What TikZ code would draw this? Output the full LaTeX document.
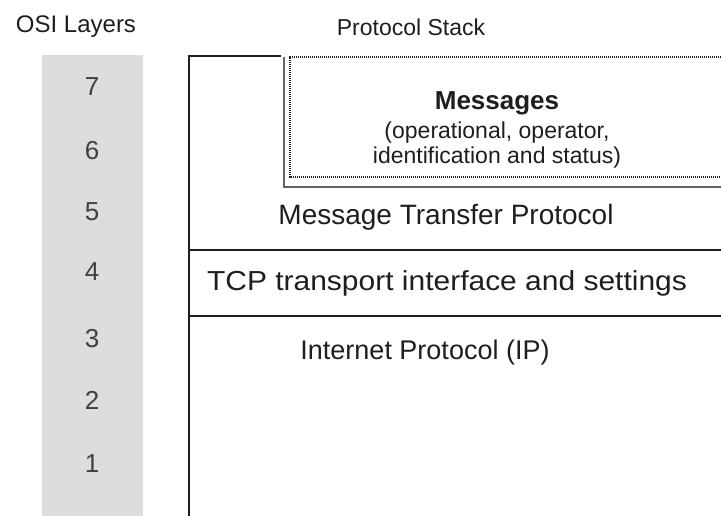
\documentclass[tikz,border=0pt]{standalone}
\usepackage{fontspec}
\setmainfont{Liberation Sans}
\definecolor{osigray}{RGB}{221,221,221}
\definecolor{ink}{RGB}{30,30,30}
\definecolor{shade}{RGB}{100,100,100}
\tikzset{
  txt/.style={inner sep=0pt, text=ink, font=\fontsize{28}{30}\selectfont},
  hdr/.style={inner sep=0pt, text=ink, font=\fontsize{24}{26}\selectfont},
  num/.style={inner sep=0pt, text=ink!85, font=\fontsize{26}{28}\selectfont},
  frame/.style={draw=ink, line width=1.3pt},
  dots/.style={draw=ink, line width=2.2pt, dash pattern=on 1.2pt off 0.8pt},
  shadowline/.style={draw=shade, line width=1.8pt}
}
\begin{document}
\begin{tikzpicture}[x=1pt,y=-1pt]
\useasboundingbox (0,0) rectangle (721,516);
% OSI column
\fill[osigray] (42,55) rectangle (143,516);
\node[hdr] (hosi) at (76,27) {OSI Layers};
\node[hdr, font=\fontsize{23}{26}\selectfont] (hps) at (411,27) {Protocol Stack};
\node[num] (n7) at (92,87) {7};
\node[num] (n6) at (92,151) {6};
\node[num] (n5) at (92,212) {5};
\node[num] (n4) at (92,272) {4};
\node[num] (n3) at (92,339) {3};
\node[num] (n2) at (92,400) {2};
\node[num] (n1) at (92,464) {1};
% stack frame
\draw[frame] (189,516) -- (189,56) -- (281,56);
\draw[frame] (189,250) -- (721,250);
\draw[frame] (189,316) -- (721,316);
% messages box with shadow
\draw[shadowline] (284,57) -- (284,187) -- (721,187);
\draw[dots] (721,57) -- (290,57) -- (290,177) -- (721,177);
\node[inner sep=0pt, text=ink, align=center, font=\fontsize{23}{25}\selectfont] (msg) at (497,130)
  {{\fontsize{26}{28}\selectfont\bfseries Messages}\\[4pt](operational, operator,\\identification and status)};
% layer labels
\node[txt] (mtp) at (446,217) {Message Transfer Protocol};
\node[txt, font=\fontsize{27.5}{30}\selectfont] (tcp) at (447,283) {\scalebox{1.09}[1]{TCP transport interface and settings}};
\node[txt, font=\fontsize{27}{30}\selectfont] (ip) at (425,353) {Internet Protocol (IP)};
\end{tikzpicture}
\end{document}
